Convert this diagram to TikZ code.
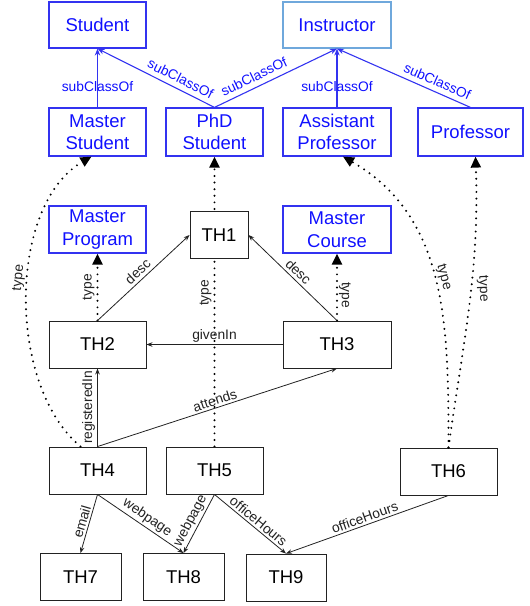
\documentclass[tikz,border=0pt]{standalone}
\usepackage{fontspec}
\setmainfont{Liberation Sans}
\definecolor{cblue}{HTML}{3333F0}
\definecolor{tblue}{HTML}{1010FF}
\definecolor{lblue}{HTML}{6FA8DC}
\definecolor{dk}{HTML}{222222}
\usetikzlibrary{arrows.meta}
\usetikzlibrary{calc, backgrounds}

\begin{document}
\begin{tikzpicture}[x=1pt,y=-1pt,
	cls/.style={draw=cblue,line width=1.2pt,text=tblue,inner sep=0pt,align=center,minimum height=47pt,font=\fontsize{18.5}{22.5}\selectfont},
	inst/.style={draw=dk,line width=0.9pt,fill=white,inner sep=0pt,minimum height=47pt,font=\fontsize{18.5}{22}\selectfont},
	sub/.style={draw=cblue,line width=1.1pt,-{Stealth[length=7pt,width=5.5pt]}},
	rel/.style={draw=dk,line width=0.8pt,-{Stealth[length=6pt,width=4.5pt]}},
	typ/.style={draw=black,line width=2.2pt,dash pattern=on 0pt off 6.6pt,line cap=round,-{Triangle[length=11pt,width=10pt]}},
	lab/.style={font=\fontsize{13.8}{16}\selectfont,inner sep=2pt,text=dk},
	blab/.style={lab,text=tblue}]
	\useasboundingbox (0,0) rectangle (530,606);
	%classes
	\node[cls,minimum width=97pt,minimum height=46pt] (student) at (97.5,25) {Student};
	\node[cls,draw=lblue,minimum width=108pt,minimum height=46pt] (instructor) at (337,25) {Instructor};
	\node[cls,minimum width=97pt,minimum height=48pt] (mstudent) at (97.5,132) {Master\\Student};
	\node[cls,minimum width=97pt,minimum height=48pt] (phd) at (214.5,132) {PhD\\Student};
	\node[cls,minimum width=108pt,minimum height=48pt] (aprof) at (337,132) {Assistant\\Professor};
	\node[cls,minimum width=105pt,minimum height=48pt] (prof) at (470.5,132) {Professor};
	\node[cls,minimum width=97pt] (mprog) at (97.5,229.5) {Master\\Program};
	\node[cls,minimum width=108pt] (mcourse) at (337,229.5) {Master\\Course};
	%instances
	\foreach \n/\x/\y/\w in {1/219/235/58, 2/97.5/344.5/97, 3/337/344.5/108,
		4/97.5/470.5/97, 5/214.5/470.5/97, 6/448.5/471.5/97,
		7/80.5/577/81, 8/183.5/577/81, 9/286/577.5/80}
	\node[inst,minimum width=\w pt] (th\n) at (\x,\y) {TH\n};
	%subClassOf
	\draw[sub] (mstudent) -- node[blab,pos=0.35] {subClassOf} (student);
	\draw[sub] (phd.north) -- node[blab,sloped,above=3pt,pos=0.33] {subClassOf} (student.south);
	\draw[sub] (phd.north) -- node[blab,sloped,above=3pt,pos=0.36] {subClassOf} (instructor.south);
	\draw[sub] (aprof) -- node[blab,pos=0.35] {subClassOf} (instructor);
	\draw[sub] (prof.north) -- node[blab,sloped,above=3pt,pos=0.28] {subClassOf} (instructor.south);
	%type
	\begin{pgfonlayer}{background}
	\draw[typ] (th5) -- node[lab,sloped,above,pos=0.53] {type} (phd);
	\end{pgfonlayer}
	\draw[typ] (th2) -- node[lab,sloped,above] {type} (mprog);
	\draw[typ] (th3) -- node[lab,rotate=-90,anchor=south,pos=0.38,inner sep=1pt] {type} (mcourse);
	\draw[typ] ([xshift=-17pt]th4.north) to[out=140,in=-150,looseness=0.85]
		node[lab,sloped,above,pos=0.55] {type} ([xshift=-6pt]mstudent.south);
	\draw[typ] (th6.north) to[out=90,in=-30]
		node[lab,sloped,above,pos=0.5] {type} ([xshift=6pt]aprof.south);
	\draw[typ] (th6.north) to[out=82,in=-88]
		node[lab,rotate=-88,anchor=south,pos=0.55,inner sep=5pt] {type} ([xshift=5pt]prof.south);
	%relations
	\draw[rel] (th2.north) -- node[lab,sloped,above=1pt] {desc} (th1.west);
	\draw[rel] (th3.north) -- node[lab,sloped,above=1pt] {desc} (th1.east);
	\draw[rel] (th3) -- node[lab,above] {givenIn} (th2);
	\draw[rel] (th4) -- node[lab,sloped,above] {registeredIn} (th2);
	\draw[rel] (th4.north) -- node[lab,sloped,above] {attends} (th3.south);
	\draw[rel] (th4.south) -- node[lab,sloped,above] {email} (th7.north);
	\draw[rel] (th4.south) -- node[lab,sloped,above,pos=0.52] {webpage} (th8.north);
	\draw[rel] (th5.south) -- node[lab,sloped,above,pos=0.52] {webpage} (th8.north);
	\draw[rel] (th5.south) -- node[lab,sloped,above,pos=0.55] {officeHours} (th9.north);
	\draw[rel] (th6.south) -- node[lab,sloped,above] {officeHours} (th9.north);
\end{tikzpicture}
\end{document}
